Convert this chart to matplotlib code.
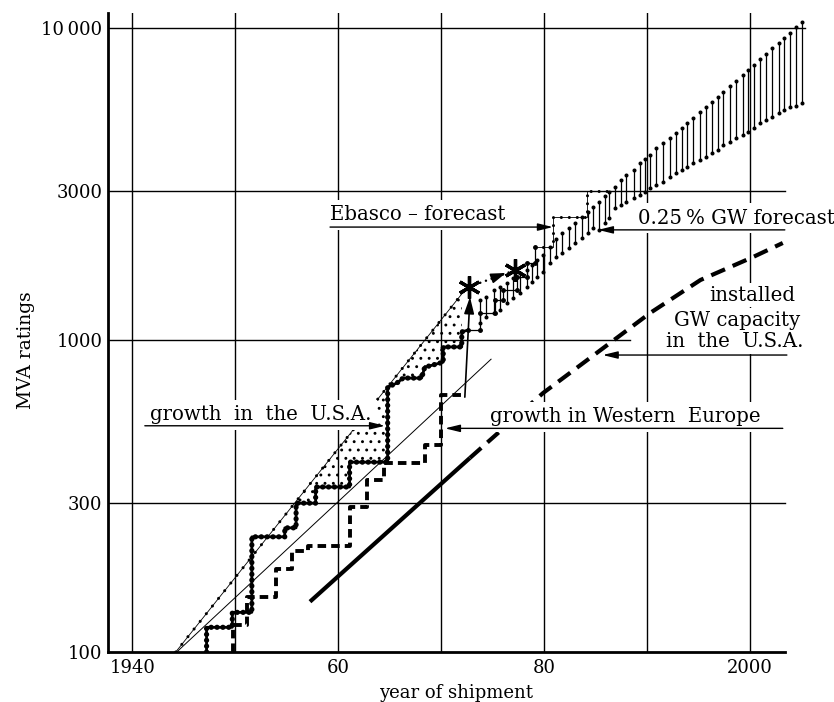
import numpy as np
import matplotlib.pyplot as plt
from matplotlib.ticker import NullLocator

plt.rcParams['font.family'] = ['DejaVu Serif']
plt.rcParams['hatch.linewidth'] = 0.9

# largest units shipped in the U.S.A. (step curve)
usa_years = [1947.2, 1947.2, 1949.7, 1949.7, 1951.6, 1951.6, 1954.8, 1954.8, 1955.9, 1955.9,
             1957.8, 1957.8, 1961.1, 1961.1, 1964.8, 1964.8, 1965.7, 1966.3, 1968.1, 1968.4,
             1970.2, 1970.2, 1972.0, 1972.0, 1972.6]
usa_mva = [100, 120, 120, 134, 134, 234, 234, 250, 250, 300,
           300, 338, 338, 406, 406, 706, 728, 755, 755, 818,
           849, 950, 950, 1061, 1076]

# later U.S.A. units, thin steps
late_years = [1972.6, 1973.8, 1973.8, 1975.2, 1975.2, 1976.0, 1976.0, 1977.4, 1977.4,
              1978.3, 1978.3, 1979.1, 1979.1]
late_mva = [1076, 1076, 1219, 1219, 1343, 1343, 1445, 1445, 1596, 1596, 1762, 1762, 1991]

# Western Europe
we_years = [1949.8, 1949.8, 1951.1, 1951.1, 1953.9, 1953.9, 1955.5, 1955.5, 1957.1, 1957.1,
            1961.1, 1961.1, 1962.8, 1962.8, 1964.4, 1964.4, 1968.4, 1968.4, 1970.0, 1970.0, 1972.0]
we_mva = [100, 122, 122, 150, 150, 184, 184, 210, 210, 219,
          219, 292, 292, 356, 356, 403, 403, 461, 461, 667, 667]

# envelope and mean trend lines
env_years = [1944.2, 1972.3]
env_mva = [100, 1445]
trend_years = [1944.3, 1974.85]
trend_mva = [100, 868]

# installed GW capacity in the U.S.A.
gw_solid_years = [1957.25, 1972.8]
gw_solid_mva = [145, 419]
gw_dash_years = [1972.8, 1979.9, 1985.1, 1990.3, 1995.2, 2000.3, 2003.2]
gw_dash_mva = [419, 676, 908, 1220, 1557, 1844, 2046]

# Ebasco forecast
star_years = [1972.7, 1977.2]
star_mva = [1480, 1675]
eb_years = [1979.1, 1980.9, 1980.9, 1984.2, 1984.2, 1986.7]
eb_mva = [1991, 1991, 2483, 2483, 3000, 3000]

# 0.25 % of GW capacity forecast band
band_years = [1973.8, 1974.4, 1975.1, 1975.7, 1976.4, 1977.0, 1977.7, 1978.3, 1978.8, 1979.3,
              1979.9, 1980.6, 1981.2, 1981.7, 1982.4, 1983.0, 1983.7, 1984.3, 1984.8, 1985.3,
              1985.9, 1986.3, 1986.9, 1987.5, 1988.0, 1988.7, 1989.3, 1989.8, 1990.3, 1990.9,
              1991.6, 1992.2, 1992.8, 1993.4, 1993.9, 1994.5, 1995.2, 1995.7, 1996.3, 1996.9,
              1997.4, 1998.1, 1998.7, 1999.3, 1999.8, 2000.4, 2001.0, 2001.6, 2002.2, 2002.8,
              2003.3, 2003.9, 2004.5, 2005.1]
band_high = [1343, 1377, 1445, 1483, 1521, 1578, 1637, 1675, 1738, 1803,
             1871, 1991, 2113, 2198, 2280, 2366, 2483, 2576, 2673, 2773,
             2884, 2985, 3097, 3258, 3381, 3508, 3681, 3793, 3917, 4111,
             4266, 4426, 4592, 4764, 4955, 5140, 5395, 5598, 5808, 6026,
             6252, 6516, 6761, 7063, 7328, 7603, 7943, 8260, 8610, 8933,
             9268, 9661, 10046, 10471]
band_low = [1130, 1189, 1219, 1247, 1312, 1361, 1413, 1483, 1538, 1596,
            1656, 1762, 1849, 1897, 1968, 2042, 2118, 2198, 2280, 2250,
            2366, 2455, 2642, 2710, 2773, 2844, 2917, 2985, 3062, 3141,
            3214, 3334, 3420, 3508, 3589, 3681, 3776, 3873, 3963, 4064,
            4217, 4325, 4426, 4539, 4656, 4764, 4955, 5070, 5200, 5333,
            5458, 5598, 5630, 5741]

fig = plt.figure(figsize=(8.34, 7.02), dpi=100)
ax = fig.add_axes([0.1295, 0.0712, 0.8393, 0.9103])
ax.set_yscale('log')
ax.set_xlim(1937.62, 2005.65)
ax.set_ylim(100, 11170)

# grid
for yr in range(1940, 2001, 10):
    ax.axvline(yr, color='black', lw=1.0, zorder=0.5)
ax.axhline(300, xmax=0.967, color='black', lw=1.0, zorder=0.5)
ax.axhline(1000, xmax=0.746, color='black', lw=1.0, zorder=0.5)
ax.axhline(3000, xmax=0.967, color='black', lw=1.0, zorder=0.5)
ax.axhline(10000, xmax=0.996, color='black', lw=1.0, zorder=0.5)

ax.set_xticks([1940, 1960, 1980, 2000], ['1940', '60', '80', '2000'])
ax.set_yticks([100, 300, 1000, 3000, 10000], ['100', '300', '1000', '3000', '10\u2009000'])
ax.yaxis.set_minor_locator(NullLocator())
ax.tick_params(length=0, labelsize=13)
ax.tick_params(axis='y', pad=4)
ax.tick_params(axis='x', pad=5)
for s in ['top', 'right']:
    ax.spines[s].set_visible(False)
for s in ['left', 'bottom']:
    ax.spines[s].set_linewidth(2)
ax.spines['bottom'].set_bounds(1937.62, 2003.4)

ax.set_ylabel('MVA ratings', fontsize=13.5)
ax.yaxis.set_label_coords(-0.105, 0.473)
ax.set_xlabel('year of shipment', fontsize=13)
ax.xaxis.set_label_coords(0.497, -0.05)

# stippled area between envelope and U.S.A. steps
usa_y = np.array(usa_years)
usa_v = np.array(usa_mva, dtype=float)
sel = (usa_y >= 1955.9) & (usa_y <= 1972.3)
env_at = 10 ** np.interp(usa_y[sel], env_years, np.log10(env_mva))
ax.fill_between(usa_y[sel], usa_v[sel], np.maximum(env_at, usa_v[sel]),
                facecolor='none', edgecolor='black', hatch='..', linewidth=0, zorder=1)

# trend lines
ax.plot(trend_years, trend_mva, color='black', lw=0.7, zorder=2)
ax.plot(env_years, env_mva, color='black', lw=0.6, zorder=2)
ax.plot(env_years, env_mva, color='black', lw=2.2, linestyle=(0, (0.01, 3.2)),
        dash_capstyle='round', zorder=2)

# U.S.A. beaded steps
ax.plot(usa_years, usa_mva, color='black', lw=2.0, zorder=4)
ax.plot(usa_years, usa_mva, color='black', lw=3.8, linestyle=(0, (0.01, 1.1)),
        dash_capstyle='round', zorder=4)
ax.plot(late_years, late_mva, color='black', lw=0.9, marker='o', ms=2.5, zorder=4)

# Western Europe dashed steps
ax.plot(we_years, we_mva, color='black', lw=2.8, linestyle=(0, (2.2, 1.3)), zorder=4)

# installed GW capacity
ax.plot(gw_solid_years, gw_solid_mva, color='black', lw=3.0, solid_capstyle='butt', zorder=4)
ax.plot(gw_dash_years, gw_dash_mva, color='black', lw=3.0, linestyle=(0, (3.6, 2.0)), zorder=4)

# forecast band
ax.vlines(band_years, band_low, band_high, color='black', lw=0.9, zorder=3)
ax.plot(band_years, band_high, 'o', color='black', ms=1.9, zorder=3)
ax.plot(band_years, band_low, 'o', color='black', ms=1.9, zorder=3)

# Ebasco forecast
ax.plot(eb_years, eb_mva, color='black', lw=0.6, zorder=4)
ax.plot(eb_years, eb_mva, color='black', lw=2.2, linestyle=(0, (0.01, 2.6)),
        dash_capstyle='round', zorder=4)
ax.plot(star_years, star_mva, linestyle='none', marker=(6, 2, 0), ms=16, mew=2.4,
        color='black', zorder=6)
ax.plot(star_years, star_mva, color='black', lw=1.8, linestyle=(0, (0.01, 2.4)),
        dash_capstyle='round', zorder=5)
ax.annotate('', xy=(1976.3, 1640), xytext=(1975.0, 1580),
            arrowprops=dict(arrowstyle='-|>,head_length=0.9,head_width=0.3',
                            lw=1.2, color='black', shrinkA=0, shrinkB=0), zorder=6)
# Western Europe end to first star
ax.annotate('', xy=(1972.8, 1374), xytext=(1972.3, 656),
            arrowprops=dict(arrowstyle='-|>,head_length=1.0,head_width=0.3',
                            lw=1.2, color='black', shrinkA=0, shrinkB=0), zorder=6)

box = dict(facecolor='white', edgecolor='none', pad=4)
tight = dict(facecolor='white', edgecolor='none', pad=1.5)
arrow = dict(arrowstyle='-|>,head_length=0.9,head_width=0.22', lw=1.0,
             color='black', shrinkA=0, shrinkB=0)
fs = 14.2

ax.text(1941.7, 575, 'growth  in  the  U.S.A.', fontsize=fs, va='center', ha='left',
        bbox=box, zorder=7)
ax.annotate('', xy=(1964.54, 531), xytext=(1941.2, 531), arrowprops=arrow, zorder=8)

ax.text(1974.7, 568, 'growth in Western  Europe', fontsize=fs, va='center', ha='left',
        bbox=box, zorder=7)
ax.annotate('', xy=(1970.37, 521), xytext=(2003.2, 521), arrowprops=arrow, zorder=8)

ax.text(1959.2, 2518, 'Ebasco \u2013 forecast', fontsize=fs, va='center', ha='left',
        bbox=box, zorder=7)
ax.annotate('', xy=(1980.86, 2301), xytext=(1959.2, 2301), arrowprops=arrow, zorder=8)

ax.text(1989.1, 2460, '0.25\u2009% GW forecast', fontsize=fs, va='center', ha='left',
        bbox=box, zorder=7)
ax.annotate('', xy=(1985.24, 2254), xytext=(2003.4, 2254), arrowprops=arrow, zorder=8)

# three-line label, upper lines drawn last so descenders stay visible
ax.text(2000.2, 1393, 'installed', fontsize=fs, va='center', ha='center',
        bbox=tight, zorder=7.3)
ax.text(1998.75, 1159, 'GW capacity', fontsize=fs, va='center', ha='center',
        bbox=tight, zorder=7.2)
ax.text(1998.55, 986, 'in  the  U.S.A.', fontsize=fs, va='center', ha='center',
        bbox=tight, zorder=7.1)
ax.annotate('', xy=(1985.7, 895), xytext=(2003.6, 895), arrowprops=arrow, zorder=8)

fig.savefig('out.png', dpi=100)
